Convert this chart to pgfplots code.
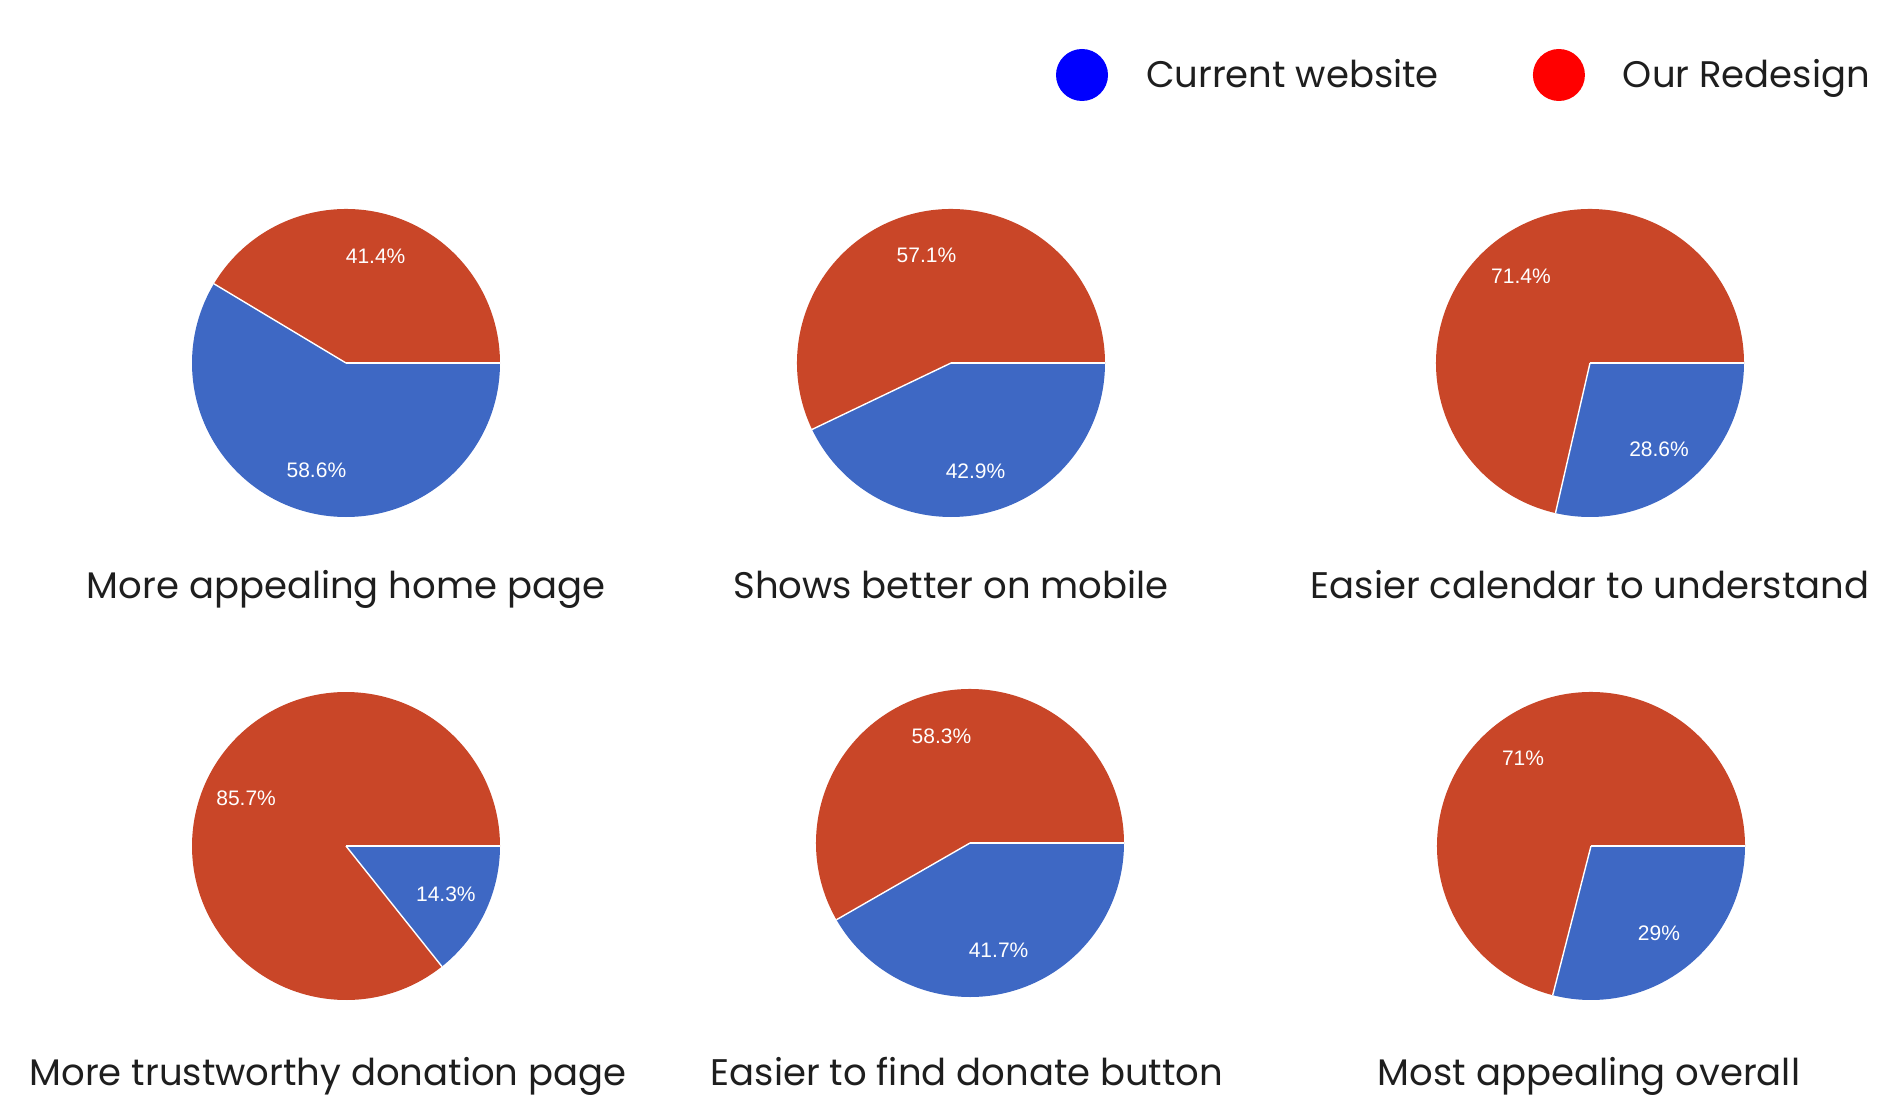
\documentclass[border=0pt]{standalone}
\usepackage{fontspec}
\setmainfont{Poppins}
\newfontfamily\arial{Liberation Sans}
\usepackage{pgfplots}
\usepackage{pgfplotstable}
\pgfplotsset{compat=1.18}
\definecolor{cblue}{RGB}{62,104,196}
\definecolor{cred}{RGB}{201,70,40}
\definecolor{ctext}{RGB}{30,30,30}

\pgfplotstableread{
cur red
58.6 41.4
42.9 57.1
28.6 71.4
14.3 85.7
41.7 58.3
29 71
}\pietab

\newcommand\getv[3]{\pgfplotstablegetelem{#1}{#2}\of\pietab\global\let#3\pgfplotsretval}
\getv{0}{cur}\vA \getv{0}{red}\wA
\getv{1}{cur}\vB \getv{1}{red}\wB
\getv{2}{cur}\vC \getv{2}{red}\wC
\getv{3}{cur}\vD \getv{3}{red}\wD
\getv{4}{cur}\vE \getv{4}{red}\wE
\getv{5}{cur}\vF \getv{5}{red}\wF

\def\R{77pt}
\newcommand\capfont{\fontsize{18.5}{22}\selectfont}
\newcommand\labfont{\arial\fontsize{10.5}{12}\selectfont}

\newcommand\pie[4]{%
 \fill[cred] (axis cs:#1,#2) -- ++(-3.6*#3:\R) arc[start angle=-3.6*#3, end angle=-360, radius=\R] -- cycle;
 \fill[cblue] (axis cs:#1,#2) -- ++(0:\R) arc[start angle=0, delta angle=-3.6*#3, radius=\R] -- cycle;
 \draw[white, line width=0.7pt] (axis cs:#1,#2) -- ++(0:\R);
 \draw[white, line width=0.7pt] (axis cs:#1,#2) -- ++(-3.6*#3:\R);
 \path (axis cs:#1,#2) ++(-1.8*#3:0.72*\R) node[text=white, font=\labfont] {#3\%};
 \path (axis cs:#1,#2) ++(-3.6*#3-1.8*#4:0.72*\R) node[text=white, font=\labfont] {#4\%};
}

\begin{document}
\begin{tikzpicture}
\begin{axis}[
  hide axis, scale only axis, width=948pt, height=559pt,
  xmin=0, xmax=1896, ymin=0, ymax=1118, y dir=reverse, clip=false,
  legend columns=2,
  legend style={at={(axis cs:1056,75)}, anchor=west, draw=none, fill=none,
    inner sep=0pt, outer sep=0pt, font=\capfont, text=ctext,
    cells={anchor=west}, nodes={inner sep=0pt},
    /tikz/every even column/.append style={column sep=47pt}},
]
\path[draw=none, fill=none] (rel axis cs:0,0) rectangle (rel axis cs:1,1);
\addlegendimage{legend image code/.code={\fill[blue, draw=none] (13pt,0pt) circle (13pt); \path[draw=none] (0pt,0pt) -- (45pt,0pt);}}
\addlegendentry{Current website}
\addlegendimage{legend image code/.code={\fill[red, draw=none] (13pt,0pt) circle (13pt); \path[draw=none] (0pt,0pt) -- (45pt,0pt);}}
\addlegendentry{Our Redesign}

\pie{346}{363}{\vA}{\wA}
\pie{951}{363}{\vB}{\wB}
\pie{1590}{363}{\vC}{\wC}
\pie{346}{846}{\vD}{\wD}
\pie{970}{843}{\vE}{\wE}
\pie{1591}{846}{\vF}{\wF}

\node[anchor=base, font=\capfont, text=ctext] at (axis cs:346,598) {More appealing home page};
\node[anchor=base, font=\capfont, text=ctext] at (axis cs:951,598) {Shows better on mobile};
\node[anchor=base, font=\capfont, text=ctext] at (axis cs:1590,598) {Easier calendar to understand};
\node[anchor=base, font=\capfont, text=ctext] at (axis cs:328,1085) {More trustworthy donation page};
\node[anchor=base, font=\capfont, text=ctext] at (axis cs:967,1085) {Easier to find donate button};
\node[anchor=base, font=\capfont, text=ctext] at (axis cs:1589,1085) {Most appealing overall};
\end{axis}
\end{tikzpicture}
\end{document}
